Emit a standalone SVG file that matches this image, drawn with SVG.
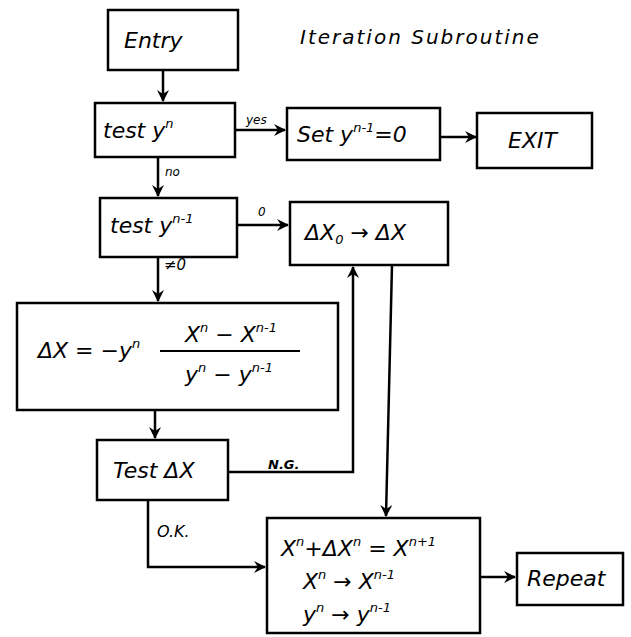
<svg xmlns="http://www.w3.org/2000/svg" width="631" height="637" viewBox="0 0 631 637">
<defs>
<marker id="ah" viewBox="0 0 12 12" refX="11" refY="6" markerWidth="12" markerHeight="12" markerUnits="userSpaceOnUse" orient="auto">
<path d="M0,0 L12,6 L0,12 L4,6 Z" fill="#000"/>
</marker>
</defs>
<style>
.box{fill:#fff;stroke:#000;stroke-width:2.5}
.t{font-family:"DejaVu Sans",sans-serif;font-style:italic;font-size:22px;fill:#000}
.s{font-size:13px}
.lbl{font-family:"DejaVu Sans",sans-serif;font-style:italic;font-size:12px;fill:#000}
.c{fill:none;stroke:#000;stroke-width:2.5}
</style>
<rect width="631" height="637" fill="#fff"/>
<text x="300" y="44" class="t" style="font-size:20px;letter-spacing:2px">Iteration Subroutine</text>
<g id="connectors">
<path class="c" d="M163,70 V101" marker-end="url(#ah)"/>
<path class="c" d="M235,130 H285" marker-end="url(#ah)"/>
<path class="c" d="M440,137 H476" marker-end="url(#ah)"/>
<path class="c" d="M158,157 V196" marker-end="url(#ah)"/>
<path class="c" d="M237,225 H288" marker-end="url(#ah)"/>
<path class="c" d="M158,257 V301" marker-end="url(#ah)"/>
<path class="c" d="M155,410 V438" marker-end="url(#ah)"/>
<path class="c" d="M228,472 H353 V267" marker-end="url(#ah)"/>
<path class="c" d="M392,265 L386,516" marker-end="url(#ah)"/>
<path class="c" d="M148,500 V567 H265" marker-end="url(#ah)"/>
<path class="c" d="M480,577 H515" marker-end="url(#ah)"/>
<text x="246" y="124" class="lbl">yes</text>
<text x="165" y="176" class="lbl">no</text>
<text x="258" y="216" class="lbl">0</text>
<text x="164" y="270" class="lbl" style="font-size:15px">≠0</text>
<text x="268" y="469" class="lbl" style="font-size:13px;font-weight:bold">N.G.</text>
<text x="157" y="537" class="lbl" style="font-size:16px">O.K.</text>
</g>
<g id="entry">
<rect class="box" x="108" y="10" width="130" height="60"/>
<text x="124" y="48" class="t">Entry</text>
</g>
<g id="test-yn">
<rect class="box" x="95" y="103" width="140" height="54"/>
<text x="103" y="138" class="t">test y<tspan class="s" dy="-10">n</tspan></text>
</g>
<g id="set-yn1">
<rect class="box" x="287" y="108" width="153" height="52"/>
<text x="297" y="142" class="t">Set y<tspan class="s" dy="-10">n-1</tspan><tspan dy="10">=0</tspan></text>
</g>
<g id="exit">
<rect class="box" x="477" y="113" width="115" height="55"/>
<text x="508" y="148" class="t">EXIT</text>
</g>
<g id="test-yn1">
<rect class="box" x="100" y="198" width="137" height="59"/>
<text x="110" y="233" class="t">test y<tspan class="s" dy="-10">n-1</tspan></text>
</g>
<g id="dx0">
<rect class="box" x="290" y="202" width="158" height="63"/>
<text x="305" y="240" class="t">ΔX<tspan class="s" dy="4">0</tspan><tspan dy="-4"> → ΔX</tspan></text>
</g>
<g id="formula">
<rect class="box" x="17" y="303" width="321" height="107"/>
<text x="38" y="358" class="t">ΔX = −y<tspan class="s" dy="-10">n</tspan></text>
<text x="185" y="342" class="t">X<tspan class="s" dy="-10">n</tspan><tspan dy="10"> − X</tspan><tspan class="s" dy="-10">n-1</tspan></text>
<line x1="160" y1="351" x2="300" y2="351" stroke="#000" stroke-width="2"/>
<text x="185" y="382" class="t">y<tspan class="s" dy="-10">n</tspan><tspan dy="10"> − y</tspan><tspan class="s" dy="-10">n-1</tspan></text>
</g>
<g id="test-dx">
<rect class="box" x="97" y="440" width="131" height="60"/>
<text x="113" y="478" class="t">Test ΔX</text>
</g>
<g id="update">
<rect class="box" x="267" y="518" width="213" height="115"/>
<text x="281" y="556" class="t">X<tspan class="s" dy="-10">n</tspan><tspan dy="10">+ΔX</tspan><tspan class="s" dy="-10">n</tspan><tspan dy="10"> = X</tspan><tspan class="s" dy="-10">n+1</tspan></text>
<text x="303" y="589" class="t">X<tspan class="s" dy="-10">n</tspan><tspan dy="10"> → X</tspan><tspan class="s" dy="-10">n-1</tspan></text>
<text x="303" y="622" class="t">y<tspan class="s" dy="-10">n</tspan><tspan dy="10"> → y</tspan><tspan class="s" dy="-10">n-1</tspan></text>
</g>
<g id="repeat">
<rect class="box" x="517" y="553" width="106" height="52"/>
<text x="527" y="586" class="t">Repeat</text>
</g>
</svg>
